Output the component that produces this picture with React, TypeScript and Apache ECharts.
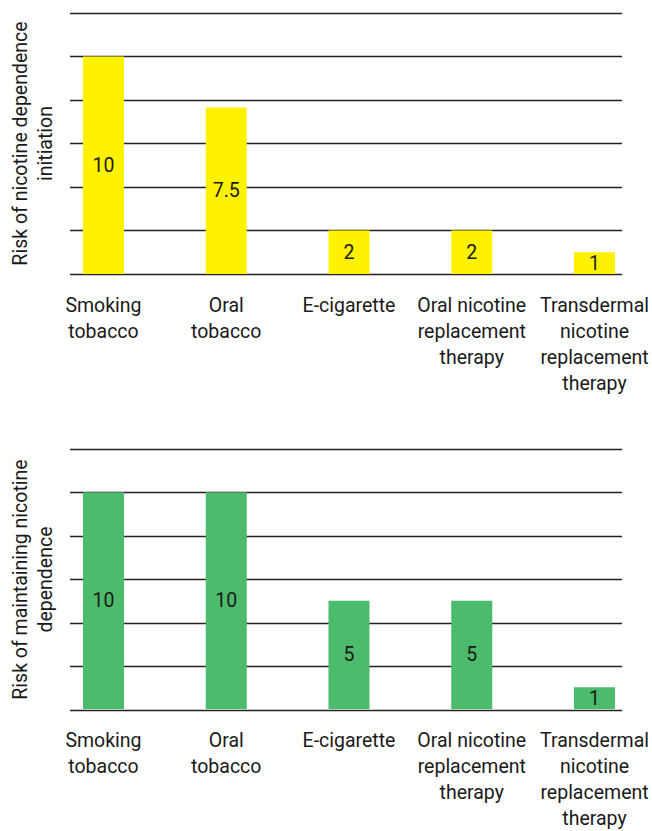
import React, { useEffect, useRef } from "react";
import * as echarts from "echarts";

const categories = [
  "Smoking\ntobacco",
  "Oral\ntobacco",
  "E-cigarette",
  "Oral nicotine\nreplacement\ntherapy",
  "Transdermal\nnicotine\nreplacement\ntherapy",
];
const initiationValues = [10, 7.65, 2, 2, 1];
const initiationLabels = ["10", "7.5", "2", "2", "1"];
const maintainingValues = [10, 10, 5, 5, 1];
const maintainingLabels = ["10", "10", "5", "5", "1"];
const yMin = 0;
const yMax = 12;
const yInterval = 2;
const titleTop = "Risk of nicotine dependence\ninitiation";
const titleBottom = "Risk of maintaining nicotine\ndependence";

const FONT = "Roboto";
const TEXT = "#1a1a1a";
const LINE = "#222222";

export default function App() {
  const ref = useRef<HTMLDivElement>(null);
  useEffect(() => {
    if (!ref.current) return;
    const chart = echarts.init(ref.current, undefined, { renderer: "svg" });
    const tops = [13, 449];
    const h = 261;
    const grids: any[] = [];
    const xAxes: any[] = [];
    const yAxes: any[] = [];
    const series: any[] = [];
    const sets = [
      { v: initiationValues, l: initiationLabels, c: "#fff200", t: titleTop },
      { v: maintainingValues, l: maintainingLabels, c: "#4cbb6c", t: titleBottom },
    ];
    sets.forEach((s, i) => {
      const gi = grids.length;
      // gridline grid
      grids.push({ left: 67, right: 30, top: tops[i], height: h });
      xAxes.push({ type: "value", gridIndex: gi, show: false });
      yAxes.push({
        type: "value",
        gridIndex: gi,
        min: yMin,
        max: yMax,
        interval: yInterval,
        axisLine: { show: false },
        axisTick: { show: false },
        axisLabel: { show: false },
        splitLine: { show: true, lineStyle: { color: LINE, width: 1.4 } },
        name: s.t,
        nameLocation: "middle",
        nameGap: 12,
        nameTextStyle: {
          fontFamily: FONT,
          fontSize: 19.5,
          color: TEXT,
          lineHeight: 25,
          align: "center",
        },
      });
      // bar grid (category points at bar centres)
      const bi = grids.length;
      grids.push({ left: 103.5, right: 57, top: tops[i], height: h });
      xAxes.push({
        type: "category",
        gridIndex: bi,
        data: categories,
        boundaryGap: false,
        axisLine: { show: false },
        axisTick: { show: false },
        axisLabel: {
          interval: 0,
          margin: 18,
          fontFamily: FONT,
          fontSize: 19.5,
          color: TEXT,
          lineHeight: 26,
          verticalAlign: "top",
        },
      });
      yAxes.push({
        type: "value",
        gridIndex: bi,
        min: yMin,
        max: yMax,
        interval: yInterval,
        show: false,
        splitLine: { show: false },
      });
      series.push({
        type: "bar",
        xAxisIndex: bi,
        yAxisIndex: bi,
        data: s.v,
        barWidth: 41,
        itemStyle: { color: s.c },
        label: {
          show: true,
          position: "inside",
          fontFamily: FONT,
          fontSize: 19.5,
          color: TEXT,
          formatter: (p: any) => s.l[p.dataIndex],
        },
      });
    });
    chart.setOption({
      animation: false,
      backgroundColor: "#ffffff",
      grid: grids,
      xAxis: xAxes,
      yAxis: yAxes,
      series,
    });
    return () => chart.dispose();
  }, []);
  return (
    <div
      ref={ref}
      style={{ position: "absolute", left: 0, top: 0, width: 652, height: 831 }}
    />
  );
}
